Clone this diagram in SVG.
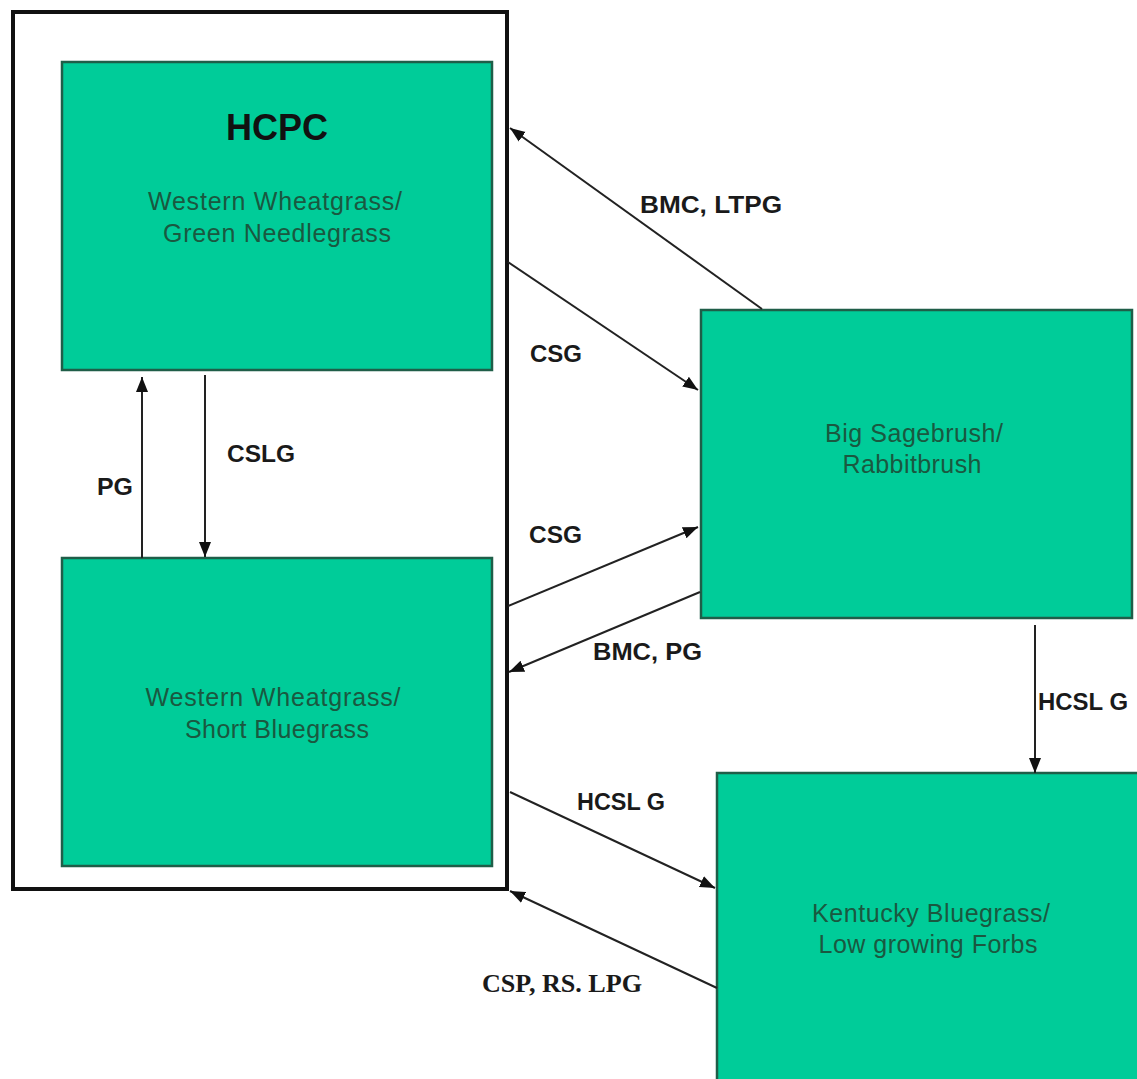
<svg xmlns="http://www.w3.org/2000/svg" width="1137" height="1079" viewBox="0 0 1137 1079">
<style>
.box{fill:#00CC99;stroke:#1F5E48;stroke-width:2.5}
.bt{font-family:"Liberation Sans",Arial,sans-serif;font-size:25px;fill:#1A5840;text-anchor:middle}
.lbl{font-family:"Liberation Sans",Arial,sans-serif;font-size:24px;font-weight:bold;fill:#1a1a1a}
.ser{font-family:"Liberation Serif","Times New Roman",serif;font-size:25px;font-weight:bold;fill:#1a1a1a}
.con{stroke:#222;stroke-width:2;fill:none;marker-end:url(#ah)}
</style>
<defs>
<marker id="ah" markerUnits="userSpaceOnUse" markerWidth="16" markerHeight="14" refX="15" refY="7" orient="auto">
<path d="M0,1 L15,7 L0,13 Z" fill="#111"/>
</marker>
</defs>
<rect width="1137" height="1079" fill="#ffffff"/>
<g id="frame">
<rect x="13" y="12" width="494" height="877" fill="none" stroke="#111" stroke-width="4"/>
</g>
<g id="node-hcpc">
<rect class="box" x="62" y="62" width="430" height="308"/>
<text x="277" y="140" font-family="Liberation Sans,Arial,sans-serif" font-size="36" font-weight="bold" fill="#111" text-anchor="middle">HCPC</text>
<text class="bt" x="275" y="210" textLength="254" lengthAdjust="spacing">Western Wheatgrass/</text>
<text class="bt" x="277" y="242" textLength="228" lengthAdjust="spacing">Green Needlegrass</text>
</g>
<g id="node-short-bluegrass">
<rect class="box" x="62" y="558" width="430" height="308"/>
<text class="bt" x="273" y="706" textLength="255" lengthAdjust="spacing">Western Wheatgrass/</text>
<text class="bt" x="277" y="738" textLength="184" lengthAdjust="spacing">Short Bluegrass</text>
</g>
<g id="node-sagebrush">
<rect class="box" x="701" y="310" width="431" height="308"/>
<text class="bt" x="914" y="442" textLength="178" lengthAdjust="spacing">Big Sagebrush/</text>
<text class="bt" x="912" y="473" textLength="139" lengthAdjust="spacing">Rabbitbrush</text>
</g>
<g id="node-kentucky">
<rect class="box" x="717" y="773" width="430" height="320"/>
<text class="bt" x="931" y="922" textLength="238" lengthAdjust="spacing">Kentucky Bluegrass/</text>
<text class="bt" x="928" y="953" textLength="219" lengthAdjust="spacing">Low growing Forbs</text>
</g>
<g id="connectors">
<line class="con" x1="762" y1="309" x2="510" y2="128"/>
<line class="con" x1="508" y1="262" x2="698" y2="390"/>
<line class="con" x1="508" y1="606" x2="698" y2="527"/>
<line class="con" x1="700" y1="592" x2="509" y2="672"/>
<line class="con" x1="142" y1="558" x2="142" y2="377"/>
<line class="con" x1="205" y1="375" x2="205" y2="557"/>
<line class="con" x1="1035" y1="625" x2="1035" y2="773"/>
<line class="con" x1="510" y1="792" x2="715" y2="888"/>
<line class="con" x1="717" y1="988" x2="510" y2="891"/>
</g>
<g id="labels">
<text class="lbl" x="640" y="213" textLength="142" lengthAdjust="spacingAndGlyphs">BMC, LTPG</text>
<text class="lbl" x="530" y="362" textLength="52" lengthAdjust="spacingAndGlyphs">CSG</text>
<text class="lbl" x="529" y="543" textLength="53" lengthAdjust="spacingAndGlyphs">CSG</text>
<text class="lbl" x="593" y="660" textLength="109" lengthAdjust="spacingAndGlyphs">BMC, PG</text>
<text class="lbl" x="97" y="495" textLength="36" lengthAdjust="spacingAndGlyphs">PG</text>
<text class="lbl" x="227" y="462" textLength="68" lengthAdjust="spacingAndGlyphs">CSLG</text>
<text class="lbl" x="1038" y="710" textLength="90" lengthAdjust="spacingAndGlyphs">HCSL G</text>
<text class="lbl" x="577" y="810" textLength="88" lengthAdjust="spacingAndGlyphs">HCSL G</text>
<text class="ser" x="482" y="992" textLength="160" lengthAdjust="spacingAndGlyphs">CSP, RS. LPG</text>
</g>
</svg>
